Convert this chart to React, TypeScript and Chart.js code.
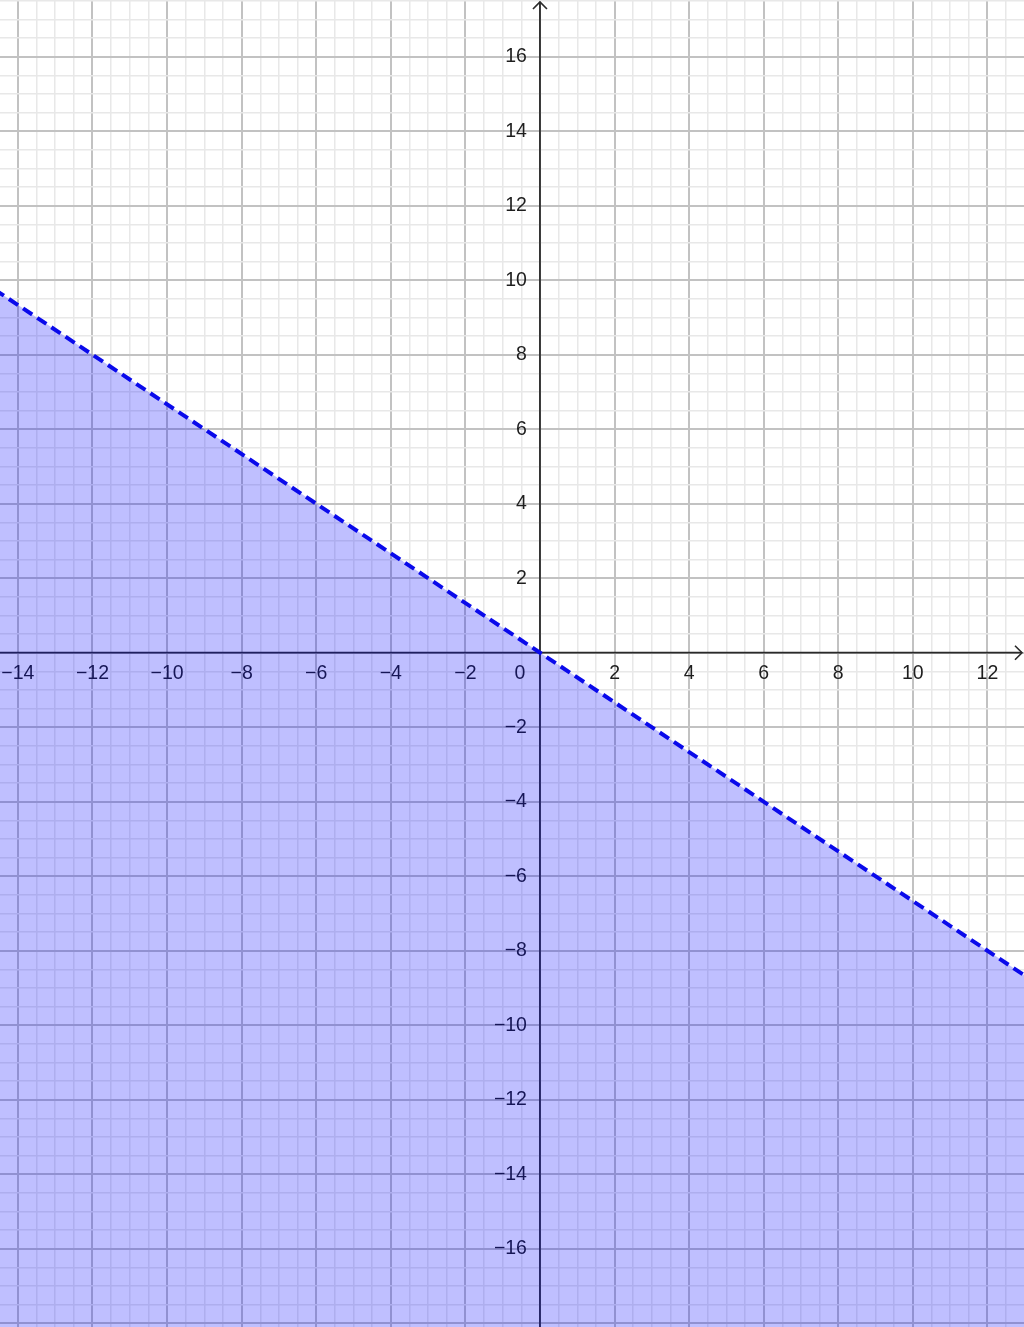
import React, { useEffect, useRef } from 'react';
import { Chart, registerables } from 'chart.js';

Chart.register(...registerables);

// Visible window of the coordinate plane
const xRange = [-14.48, 12.98];
const yRange = [-18.1, 17.52];

// Grid spacing
const minorStep = 0.5;
const majorEvery = 4; // major line every 4 minor steps (= 2 units)

// Tick labels on the axes
const xTickLabels = [-14, -12, -10, -8, -6, -4, -2, 2, 4, 6, 8, 10, 12];
const yTickLabels = [-16, -14, -12, -10, -8, -6, -4, -2, 2, 4, 6, 8, 10, 12, 14, 16];

// Boundary line y = -2/3 x (dashed), region below shaded
const boundaryX = [-15, 14];
const boundaryY = [10, -28 / 3];

const fmt = (v: number) => (v < 0 ? '\u2212' + Math.abs(v) : String(v));

const axesPlugin = {
  id: 'geoAxes',
  beforeDatasetsDraw(chart: any) {
    const ctx = chart.ctx as CanvasRenderingContext2D;
    const xs = chart.scales.x;
    const ys = chart.scales.y;
    const ox = xs.getPixelForValue(0);
    const oy = ys.getPixelForValue(0);
    const { left, right, top, bottom } = chart.chartArea;
    ctx.save();
    ctx.strokeStyle = '#2a2a2a';
    ctx.lineWidth = 1.8;
    ctx.beginPath();
    ctx.moveTo(left, oy);
    ctx.lineTo(right - 2, oy);
    ctx.moveTo(ox, bottom);
    ctx.lineTo(ox, top + 2);
    ctx.stroke();
    // arrow heads
    ctx.lineWidth = 1.6;
    ctx.beginPath();
    ctx.moveTo(right - 9, oy - 7);
    ctx.lineTo(right - 2, oy);
    ctx.lineTo(right - 9, oy + 7);
    ctx.moveTo(ox - 7, top + 9);
    ctx.lineTo(ox, top + 2);
    ctx.lineTo(ox + 7, top + 9);
    ctx.stroke();

    ctx.fillStyle = '#1e1e1e';
    ctx.font = "19.5px 'Liberation Sans', Arial, sans-serif";
    ctx.textAlign = 'center';
    ctx.textBaseline = 'middle';
    xTickLabels.forEach((v) => {
      ctx.fillText(fmt(v), xs.getPixelForValue(v), oy + 21);
    });
    ctx.fillText('0', ox - 20, oy + 21);
    ctx.textAlign = 'right';
    yTickLabels.forEach((v) => {
      ctx.fillText(fmt(v), ox - 13, ys.getPixelForValue(v));
    });
    ctx.restore();
  },
};

const gridColor = (c: any) => {
  const v = c.tick ? c.tick.value : null;
  if (v === null || v === undefined) return 'rgba(0,0,0,0)';
  const k = Math.round(v / minorStep);
  return k % majorEvery === 0 ? '#c2c2c2' : '#e8e8e8';
};
const gridWidth = (c: any) => {
  const v = c.tick ? c.tick.value : 0;
  const k = Math.round(v / minorStep);
  return k % majorEvery === 0 ? 2 : 1.5;
};

export default function App() {
  const ref = useRef<HTMLCanvasElement | null>(null);
  useEffect(() => {
    if (!ref.current) return;
    const scaleCommon = {
      type: 'linear' as const,
      border: { display: false },
      grid: { drawTicks: false, color: gridColor, lineWidth: gridWidth },
      ticks: { display: false, stepSize: minorStep, includeBounds: false, maxTicksLimit: 1000 },
      afterFit: (s: any) => {
        if (s.isHorizontal()) s.height = 0;
        else s.width = 0;
      },
    };
    const chart = new Chart(ref.current, {
      type: 'line',
      data: {
        datasets: [
          {
            data: boundaryX.map((x, i) => ({ x, y: boundaryY[i] })),
            borderColor: '#0a0aeb',
            borderWidth: 4,
            borderDash: [11, 6],
            backgroundColor: 'rgba(0,0,255,0.25)',
            fill: 'start',
            pointRadius: 0,
            tension: 0,
          },
        ],
      },
      options: {
        animation: false,
        responsive: true,
        maintainAspectRatio: false,
        devicePixelRatio: 1,
        layout: { padding: 0 },
        plugins: { legend: { display: false }, tooltip: { enabled: false } },
        events: [],
        scales: {
          x: { ...scaleCommon, position: 'bottom', min: xRange[0], max: xRange[1] },
          y: { ...scaleCommon, position: 'left', min: yRange[0], max: yRange[1] },
        } as any,
      },
      plugins: [axesPlugin],
    });
    return () => chart.destroy();
  }, []);
  return (
    <div style={{ position: 'fixed', left: 0, top: 0, width: 1024, height: 1327, background: '#fff' }}>
      <canvas ref={ref} />
    </div>
  );
}
